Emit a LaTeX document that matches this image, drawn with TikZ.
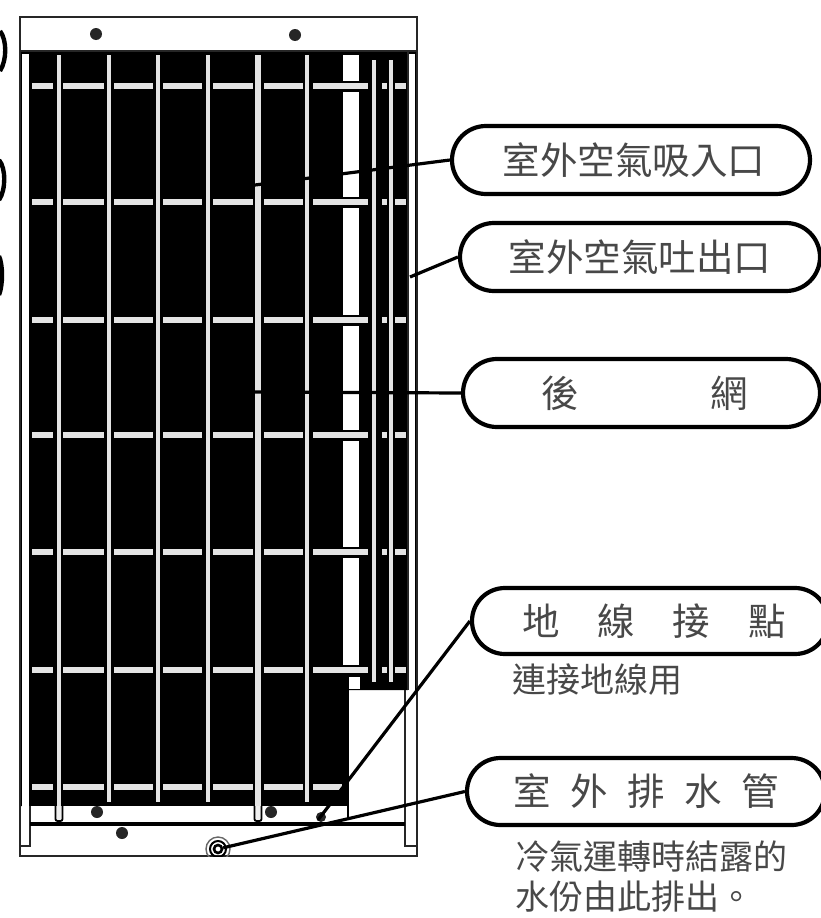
\documentclass[tikz,border=0pt]{standalone}
\usepackage{fontspec}
\setmainfont{Noto Sans CJK TC}
\usetikzlibrary{shapes.misc}
\definecolor{barc}{HTML}{E4E4E4}
\definecolor{linec}{HTML}{262626}
\definecolor{textc}{HTML}{484848}
\tikzset{
  pill/.style={rounded rectangle,draw=black,line width=4.2pt,fill=white,inner sep=0pt,text=textc,font=\fontsize{37.5}{37.5}\selectfont},
  lead/.style={draw=black,line width=3.2pt},
  note/.style={anchor=west,inner sep=0pt,text=textc,font=\fontsize{34}{34}\selectfont},
  hbar/.style={draw=none,fill=barc},
  vbar/.style={draw=none,fill=barc},
  frameline/.style={draw=linec,line width=2.8pt},
  screw/.style={circle,fill=black!85,draw=none,minimum size=12pt,inner sep=0pt},
  partarc/.style={draw=black,line width=4.4pt},
}
\begin{document}
\begin{tikzpicture}[x=1pt,y=-1pt]
\useasboundingbox (0,0) rectangle (821,918);
\clip (0,0) rectangle (821,918);
\fill[white] (0,0) rectangle (821,918);
% cut-off ends of neighbouring labels
\draw[partarc] (0,31) .. controls (7,40) and (7,60) .. (0,71);
\draw[partarc] (-1,160) .. controls (6,168) and (6,190) .. (-1,200);
\draw[partarc] (-1,256) .. controls (3,265) and (3,285) .. (-1,295);
% black filter area
\fill[black] (21,52) -- (416,52) -- (416,690) -- (348,690) -- (348,806) -- (21,806) -- cycle;
% white strip
\fill[white] (343,55) rectangle (359,665);
\fill[white] (349,677) rectangle (360,689);
% side strips and lower section
\fill[white] (22,54) rectangle (29,846);
\fill[white] (408,54) rectangle (415,846);
\fill[white] (30,806) rectangle (348,846);
\fill[white] (349,691) rectangle (404,846);
% horizontal grille bars with black halo over strip
\foreach \y in {86,202,320,435,552,670} {
  \fill[black] (343,\y-5) rectangle (359,\y+6);
  \foreach \a/\b in {32/53,63/104,114/153,163/202,213/253,264/303,313/368,382/387,395/406}
    \fill[hbar] (\a,\y-2.8) rectangle (\b,\y+2.8);
}
\foreach \a/\b in {32/53,63/104,114/153,163/202,213/253,264/303,313/342}
  \fill[hbar] (\a,787-2.8) rectangle (\b,787+2.8);
% vertical grille bars
\foreach \x in {109,158,208,307}
  \fill[vbar] (\x-2.4,55) rectangle (\x+2.4,802);
\fill[vbar] (59-2.4,55) rectangle (59+2.4,806);
\fill[vbar] (258-3,55) rectangle (258+3,806);
\foreach \x in {374,391}
  \fill[vbar] (\x-2.4,60) rectangle (\x+2.4,682);
% bars reaching the lower strip
\foreach \x in {59,258}
  \draw[black,line width=1.8pt,fill=barc!60!white,rounded corners=2pt] (\x-3.5,806) -- (\x-3.5,821) -- (\x+3.5,821) -- (\x+3.5,806);
% frame
\draw[frameline] (20,17) rectangle (417,856);
\draw[frameline] (20,51) -- (417,51);
\draw[frameline] (30,806) -- (30,846) -- (20,846);
\draw[frameline] (405,690) -- (405,846) -- (417,846);
\draw[frameline] (408,52) -- (408,690);
\draw[draw=black,line width=2.2pt] (348,690) -- (348,820);
\draw[draw=black,line width=4pt] (30,824) -- (405,824);
% screws
\node[screw] (s1) at (96,34) {};
\node[screw] (s2) at (295,35) {};
\node[screw] (s3) at (97,812) {};
\node[screw] (s4) at (271,812) {};
\node[screw] (s5) at (122,833) {};
\node[screw,minimum size=10pt] (s6) at (321,817) {};
% drain fitting
\begin{scope}
  \clip (190,830) rectangle (246,856);
  \draw[linec!70!white,line width=1.4pt] (218,849) circle[radius=12];
  \draw[black,line width=2pt] (218,849) circle[radius=8];
\end{scope}
\node[circle,draw=black,line width=2.6pt,fill=white,minimum size=8pt,inner sep=0pt] (drain) at (218,849) {};
% labels
\node[pill,minimum width=358pt,minimum height=68pt] (p1) at (631,160) {\hspace*{6pt}室外空氣吸入口};
\node[pill,minimum width=360pt,minimum height=68pt] (p2) at (640,257) {室外空氣吐出口};
\node[pill,minimum width=357pt,minimum height=68pt] (p3) at (641.5,393) {\hspace*{6pt}後\hspace{132pt}網};
\node[pill,minimum width=356pt,minimum height=66pt] (p4) at (650,621) {\hspace*{8pt}地\hspace{38pt}線\hspace{38pt}接\hspace{38pt}點};
\node[pill,minimum width=358pt,minimum height=67pt] (p5) at (646,791.5) {室\hspace{19.5pt}外\hspace{19.5pt}排\hspace{19.5pt}水\hspace{19.5pt}管};
\node[note] (n1) at (512,680) {連接地線用};
\node[note] (n2) at (515,857) {冷氣運轉時結露的};
\node[note] (n3) at (515,897) {水份由此排出。};
% leader ends
\coordinate (c1) at (255,185);
\coordinate (c2) at (410,277);
\coordinate (c3) at (255,392);
\coordinate (c4) at (318,820);
\draw[lead] (p1.west) -- (c1);
\draw[lead] (p2.west) -- (c2);
\draw[lead] (p3.west) -- (c3);
\draw[lead] (p4.west) -- (c4);
\draw[lead] (p5.west) -- (drain);
\end{tikzpicture}
\end{document}
